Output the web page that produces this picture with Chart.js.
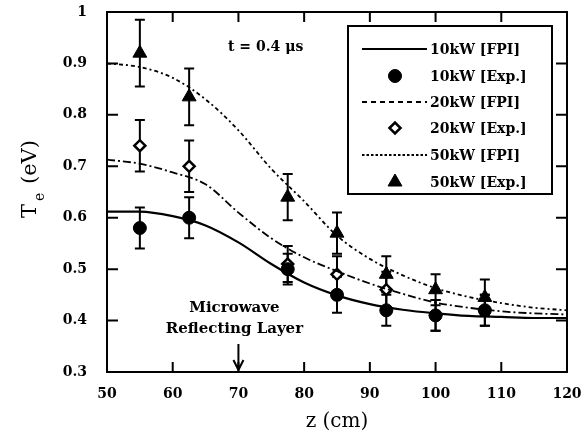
<!DOCTYPE html>
<html>
<head>
<meta charset="utf-8">
<script src="https://cdn.jsdelivr.net/npm/chart.js@4.4.1/dist/chart.umd.min.js"></script>
<style>
  html, body { margin: 0; padding: 0; background: #fff; }
  #wrap { width: 585px; height: 438px; }
</style>
</head>
<body>
<div id="wrap"><canvas id="chart" width="585" height="438"></canvas></div>
<script>
// measured points (z in cm, Te in eV)
const zExp = [55, 62.5, 77.5, 85, 92.5, 100, 107.5];
const te10Exp = [0.58, 0.60, 0.50, 0.45, 0.42, 0.41, 0.42];
const err10 = [0.04, 0.04, 0.03, 0.035, 0.03, 0.03, 0.03];
const te20Exp = [0.74, 0.70, 0.51, 0.49, 0.46, 0.41, 0.42];
const err20 = [0.05, 0.05, 0.035, 0.035, 0.035, 0.03, 0.03];
const te50Exp = [0.92, 0.835, 0.64, 0.57, 0.49, 0.46, 0.445];
const err50 = [0.065, 0.055, 0.045, 0.04, 0.035, 0.03, 0.035];

// FPI model curves
const zFpi = [50, 55, 60, 65, 70, 75, 80, 85, 90, 95, 100, 105, 110, 115, 120];
const fpi10 = [0.612, 0.612, 0.603, 0.585, 0.552, 0.51, 0.474, 0.449, 0.432, 0.421, 0.414, 0.409, 0.407, 0.405, 0.405];
const fpi20 = [0.713, 0.705, 0.688, 0.665, 0.610, 0.560, 0.523, 0.496, 0.472, 0.452, 0.435, 0.425, 0.418, 0.414, 0.412];
const fpi50 = [0.900, 0.893, 0.872, 0.830, 0.770, 0.695, 0.632, 0.565, 0.520, 0.488, 0.463, 0.446, 0.434, 0.425, 0.420];

const xTicks = [50, 60, 70, 80, 90, 100, 110, 120];
const yTicks = [0.3, 0.4, 0.5, 0.6, 0.7, 0.8, 0.9, 1];

const legendLabels = ['10kW [FPI]', '10kW [Exp.]', '20kW [FPI]', '20kW [Exp.]', '50kW [FPI]', '50kW [Exp.]'];

const serif = '"DejaVu Serif", "Liberation Serif", serif';

function pts(xs, ys) {
  return xs.map((x, i) => ({ x: x, y: ys[i] }));
}

const lineStyle = { showLine: true, pointRadius: 0, borderColor: '#000', fill: false, cubicInterpolationMode: 'monotone' };

const datasets = [
  Object.assign({ data: pts(zFpi, fpi10), borderWidth: 2.2, borderDash: [] }, lineStyle),
  { data: pts(zExp, te10Exp), err: err10, pointStyle: 'circle', pointRadius: 6.5,
    backgroundColor: '#000', borderColor: '#000', borderWidth: 1 },
  Object.assign({ data: pts(zFpi, fpi20), borderWidth: 1.8, borderDash: [8, 3, 2, 3] }, lineStyle),
  { data: pts(zExp, te20Exp), err: err20, pointStyle: 'rectRot', pointRadius: 5.5,
    backgroundColor: '#fff', borderColor: '#000', borderWidth: 2.5 },
  Object.assign({ data: pts(zFpi, fpi50), borderWidth: 1.8, borderDash: [4, 3, 2, 3] }, lineStyle),
  { data: pts(zExp, te50Exp), err: err50, pointStyle: 'triangle', pointRadius: 8,
    backgroundColor: '#000', borderColor: '#000', borderWidth: 1 }
];

// error bars under the markers
const errorBars = {
  id: 'errorBars',
  beforeDatasetsDraw(chart) {
    const ctx = chart.ctx, xs = chart.scales.x, ys = chart.scales.y;
    ctx.save();
    ctx.strokeStyle = '#000';
    ctx.lineWidth = 2;
    chart.data.datasets.forEach(ds => {
      if (!ds.err) return;
      ds.data.forEach((p, i) => {
        const px = xs.getPixelForValue(p.x);
        const top = ys.getPixelForValue(p.y + ds.err[i]);
        const bot = ys.getPixelForValue(p.y - ds.err[i]);
        ctx.beginPath();
        ctx.moveTo(px, top); ctx.lineTo(px, bot);
        ctx.moveTo(px - 5, top); ctx.lineTo(px + 5, top);
        ctx.moveTo(px - 5, bot); ctx.lineTo(px + 5, bot);
        ctx.stroke();
      });
    });
    ctx.restore();
  }
};

// frame, inward ticks, titles, notes, legend
const decor = {
  id: 'decor',
  afterDraw(chart) {
    const ctx = chart.ctx, a = chart.chartArea, xs = chart.scales.x, ys = chart.scales.y;
    ctx.save();
    ctx.strokeStyle = '#000';
    ctx.lineWidth = 2;
    ctx.strokeRect(a.left, a.top, a.right - a.left, a.bottom - a.top);
    ctx.beginPath();
    xTicks.forEach(v => {
      const px = xs.getPixelForValue(v);
      ctx.moveTo(px, a.bottom); ctx.lineTo(px, a.bottom - 10);
      ctx.moveTo(px, a.top); ctx.lineTo(px, a.top + 10);
    });
    yTicks.forEach(v => {
      const py = ys.getPixelForValue(v);
      ctx.moveTo(a.left, py); ctx.lineTo(a.left + 11, py);
      ctx.moveTo(a.right, py); ctx.lineTo(a.right - 11, py);
    });
    ctx.stroke();

    ctx.fillStyle = '#000';
    // axis titles
    ctx.font = '20px ' + serif;
    ctx.textAlign = 'center';
    ctx.textBaseline = 'alphabetic';
    ctx.fillText('z (cm)', (a.left + a.right) / 2, 427);
    ctx.save();
    ctx.translate(36, 0);
    ctx.rotate(-Math.PI / 2);
    ctx.textAlign = 'left';
    ctx.font = '21px ' + serif;
    ctx.fillText('T', -218, 0);
    ctx.font = '14px ' + serif;
    ctx.fillText('e', -201, 8);
    ctx.font = '21px ' + serif;
    ctx.fillText('(eV)', -184, 0);
    ctx.restore();

    // notes
    ctx.font = 'bold 14px ' + serif;
    ctx.textAlign = 'left';
    ctx.fillText('t = 0.4 μs', 228, 51);
    ctx.textAlign = 'center';
    ctx.font = 'bold 15px ' + serif;
    const ax = xs.getPixelForValue(70);
    ctx.fillText('Microwave', ax - 4, 312);
    ctx.fillText('Reflecting Layer', ax - 4, 333);
    ctx.beginPath();
    ctx.lineWidth = 2;
    ctx.moveTo(ax, 344); ctx.lineTo(ax, a.bottom - 2);
    ctx.moveTo(ax - 5, a.bottom - 12); ctx.lineTo(ax, a.bottom - 2); ctx.lineTo(ax + 5, a.bottom - 12);
    ctx.stroke();

    // legend box
    ctx.lineWidth = 2;
    ctx.fillStyle = '#fff';
    ctx.fillRect(348, 26, 204, 168);
    ctx.strokeRect(348, 26, 204, 168);
    const legendDash = [[], null, [5, 4], null, [2.5, 2], null];
    const rowY = [49, 76, 102, 128, 155, 182];
    ctx.font = 'bold 14px ' + serif;
    ctx.textAlign = 'left';
    ctx.textBaseline = 'middle';
    chart.data.datasets.forEach((ds, i) => {
      const y = rowY[i];
      if (ds.showLine) {
        ctx.save();
        ctx.lineWidth = ds.borderWidth;
        ctx.setLineDash(legendDash[i]);
        ctx.beginPath();
        ctx.moveTo(362, y); ctx.lineTo(427, y);
        ctx.stroke();
        ctx.restore();
      } else {
        ctx.save();
        ctx.fillStyle = ds.backgroundColor;
        ctx.strokeStyle = ds.borderColor;
        ctx.lineWidth = ds.borderWidth;
        Chart.helpers.drawPoint(ctx, {
          pointStyle: ds.pointStyle, radius: ds.pointRadius, borderWidth: ds.borderWidth, rotation: 0
        }, 395, y);
        ctx.restore();
      }
      ctx.fillStyle = '#000';
      ctx.fillText(legendLabels[i], 430, y + 1);
    });
    ctx.restore();
  }
};

new Chart(document.getElementById('chart'), {
  type: 'scatter',
  data: { datasets: datasets },
  options: {
    responsive: false,
    animation: false,
    layout: { padding: { top: 12, right: 18, left: 0, bottom: 0 } },
    plugins: { legend: { display: false }, tooltip: { enabled: false } },
    scales: {
      x: {
        type: 'linear', min: 50, max: 120,
        grid: { display: false, drawTicks: false },
        border: { display: false },
        afterFit: s => { s.height = 66; s.paddingLeft = 0; s.paddingRight = 0; },
        afterBuildTicks: s => { s.ticks = xTicks.map(v => ({ value: v })); },
        ticks: { color: '#000', padding: 14, font: { family: serif, weight: 'bold', size: 14 } }
      },
      y: {
        type: 'linear', min: 0.3, max: 1,
        grid: { display: false, drawTicks: false },
        border: { display: false },
        afterFit: s => { s.width = 107; s.paddingTop = 0; s.paddingBottom = 0; },
        afterBuildTicks: s => { s.ticks = yTicks.map(v => ({ value: v })); },
        ticks: {
          color: '#000', padding: 20, font: { family: serif, weight: 'bold', size: 14 },
          callback: v => (v === 1 ? '1' : v.toFixed(1))
        }
      }
    }
  },
  plugins: [errorBars, decor]
});
</script>
</body>
</html>
